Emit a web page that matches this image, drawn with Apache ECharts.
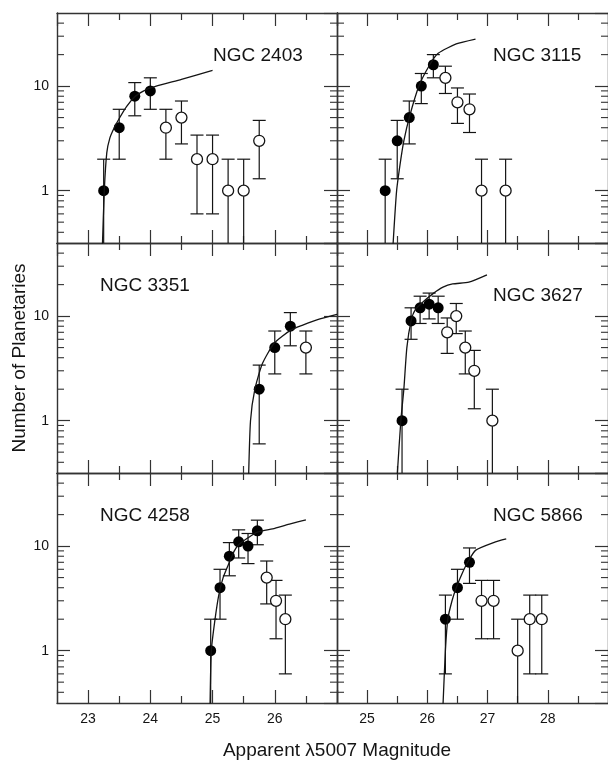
<!DOCTYPE html>
<html>
<head>
<meta charset="utf-8">
<script src="https://cdn.jsdelivr.net/npm/echarts@6/dist/echarts.min.js"></script>
<style>
  html, body { margin: 0; padding: 0; background: #fff; }
  #chart { width: 608px; height: 763px; }
</style>
</head>
<body>
<div id="chart"></div>
<script>
// NGC 2403 (first 4 bins are the fitted, filled points)
const ngc2403Mag = [23.25, 23.5, 23.75, 24.0, 24.25, 24.5, 24.75, 25.0, 25.25, 25.5, 25.75];
const ngc2403N = [1, 4, 8, 9, 4, 5, 2, 2, 1, 1, 3];
const ngc2403Lo = [0, 2, 5.2, 6, 2, 2.8, 0.6, 0.6, 0, 0, 1.3];
const ngc2403Hi = [2, 6, 10.8, 12, 6, 7.2, 3.4, 3.4, 2, 2, 4.7];
const ngc2403CurveMag = [23.23, 23.26, 23.3, 23.35, 23.42, 23.5, 23.62, 23.75, 23.88, 24.0, 24.5, 25.0];
const ngc2403CurveN = [0.3, 1, 2.3, 3.2, 4.0, 4.9, 6.4, 7.9, 8.9, 9.6, 11.6, 14.1];

// NGC 3115
const ngc3115Mag = [25.3, 25.5, 25.7, 25.9, 26.1, 26.3, 26.5, 26.7, 26.9, 27.3];
const ngc3115N = [1, 3, 5, 10, 16, 12, 7, 6, 1, 1];
const ngc3115Lo = [0, 1.3, 2.8, 6.8, 12, 8.5, 4.4, 3.6, 0, 0];
const ngc3115Hi = [2, 4.7, 7.2, 13.2, 20, 15.5, 9.6, 8.4, 2, 2];
const ngc3115CurveMag = [25.43, 25.49, 25.56, 25.61, 25.7, 25.86, 26.04, 26.18, 26.48, 26.8];
const ngc3115CurveN = [0.3, 1, 2, 3, 5, 10, 16, 20.6, 25.3, 28.2];

// NGC 3351
const ngc3351Mag = [25.75, 26.0, 26.25, 26.5];
const ngc3351N = [2, 5, 8, 5];
const ngc3351Lo = [0.6, 2.8, 5.2, 2.8];
const ngc3351Hi = [3.4, 7.2, 10.8, 7.2];
const ngc3351CurveMag = [25.58, 25.61, 25.68, 25.8, 25.99, 26.25, 26.45, 26.7, 27.0];
const ngc3351CurveN = [0.3, 1, 2, 3.5, 5.5, 7.3, 8.2, 9.3, 10.4];

// NGC 3627
const ngc3627Mag = [25.58, 25.73, 25.88, 26.03, 26.18, 26.33, 26.48, 26.63, 26.78, 27.08];
const ngc3627N = [1, 9, 12, 13, 12, 7, 10, 5, 3, 1];
const ngc3627Lo = [0, 6, 8.5, 9.4, 8.5, 4.4, 6.8, 2.8, 1.3, 0];
const ngc3627Hi = [2, 12, 15.5, 16.6, 15.5, 9.6, 13.2, 7.2, 4.7, 2];
const ngc3627CurveMag = [25.5, 25.56, 25.61, 25.66, 25.73, 25.8, 25.95, 26.1, 26.26, 26.42, 26.69, 26.99];
const ngc3627CurveN = [0.3, 1, 2, 5, 9, 11.5, 14, 16.5, 18.9, 20.3, 21.1, 24.8];

// NGC 4258
const ngc4258Mag = [24.97, 25.12, 25.27, 25.42, 25.57, 25.72, 25.87, 26.02, 26.17];
const ngc4258N = [1, 4, 8, 11, 10, 14, 5, 3, 2];
const ngc4258Lo = [0, 2, 5.2, 7.7, 6.8, 10.3, 2.8, 1.3, 0.6];
const ngc4258Hi = [2, 6, 10.8, 14.3, 13.2, 17.7, 7.2, 4.7, 3.4];
const ngc4258CurveMag = [24.96, 24.98, 25.04, 25.1, 25.17, 25.27, 25.35, 25.42, 25.57, 25.72, 26.0, 26.25, 26.5];
const ngc4258CurveN = [0.3, 1, 2, 3.4, 5, 7, 9, 10.3, 12, 13.6, 14.8, 16.3, 17.8];

// NGC 5866
const ngc5866Mag = [26.3, 26.5, 26.7, 26.9, 27.1, 27.5, 27.7, 27.9];
const ngc5866N = [2, 4, 7, 3, 3, 1, 2, 2];
const ngc5866Lo = [0.6, 2, 4.4, 1.3, 1.3, 0, 0.6, 0.6];
const ngc5866Hi = [3.4, 6, 9.6, 4.7, 4.7, 2, 3.4, 3.4];
const ngc5866CurveMag = [26.26, 26.3, 26.34, 26.41, 26.48, 26.58, 26.67, 26.8, 27.12, 27.31];
const ngc5866CurveN = [0.3, 1, 2, 3, 4, 5.5, 7, 9.1, 10.9, 11.7];

// axes
const xRangeLeft = [22.5, 27];
const xRangeRight = [24.5, 29];
const yRange = [0.316, 50];
const yMinorTicks = [0.4, 0.5, 0.6, 0.7, 0.8, 0.9, 2, 3, 4, 5, 6, 7, 8, 9, 20, 30, 40];

const FONT = '"Liberation Sans", Arial, Helvetica, sans-serif';
const INK = '#141414';
const AXIS = '#333';

const panels = [
  { name: 'NGC 2403', mag: ngc2403Mag, n: ngc2403N, lo: ngc2403Lo, hi: ngc2403Hi, filled: 4,
    curveMag: ngc2403CurveMag, curveN: ngc2403CurveN, label: [213, 56] },
  { name: 'NGC 3115', mag: ngc3115Mag, n: ngc3115N, lo: ngc3115Lo, hi: ngc3115Hi, filled: 5,
    curveMag: ngc3115CurveMag, curveN: ngc3115CurveN, label: [493, 56] },
  { name: 'NGC 3351', mag: ngc3351Mag, n: ngc3351N, lo: ngc3351Lo, hi: ngc3351Hi, filled: 3,
    curveMag: ngc3351CurveMag, curveN: ngc3351CurveN, label: [100, 286] },
  { name: 'NGC 3627', mag: ngc3627Mag, n: ngc3627N, lo: ngc3627Lo, hi: ngc3627Hi, filled: 5,
    curveMag: ngc3627CurveMag, curveN: ngc3627CurveN, label: [493, 296] },
  { name: 'NGC 4258', mag: ngc4258Mag, n: ngc4258N, lo: ngc4258Lo, hi: ngc4258Hi, filled: 6,
    curveMag: ngc4258CurveMag, curveN: ngc4258CurveN, label: [100, 516] },
  { name: 'NGC 5866', mag: ngc5866Mag, n: ngc5866N, lo: ngc5866Lo, hi: ngc5866Hi, filled: 3,
    curveMag: ngc5866CurveMag, curveN: ngc5866CurveN, label: [493, 516] },
];

const gridLeft = [57, 337];
const gridTop = [13, 243, 473];
const GRID_W = 280;
const GRID_H = 230;

const zip = (a, b) => a.map((v, i) => [v, b[i]]);

const renderErrorBar = (params, api) => {
  const cs = params.coordSys;
  const x = api.value(0);
  const lo = api.value(1);
  const hi = api.value(2);
  const top = api.coord([x, hi]);
  const px = top[0];
  const bottomY = lo > 0 ? api.coord([x, lo])[1] : cs.y + cs.height;
  const style = { stroke: INK, lineWidth: 1.2, fill: null };
  const children = [
    { type: 'line', shape: { x1: px, y1: top[1], x2: px, y2: bottomY }, style },
    { type: 'line', shape: { x1: px - 6.5, y1: top[1], x2: px + 6.5, y2: top[1] }, style },
  ];
  if (lo > 0) {
    children.push({ type: 'line', shape: { x1: px - 6.5, y1: bottomY, x2: px + 6.5, y2: bottomY }, style });
  }
  return { type: 'group', children };
};

// log axis minor ticks at 2..9 of each decade, on both sides of the panel
const renderMinorTick = (params, api) => {
  const cs = params.coordSys;
  const y = api.coord([api.value(0), api.value(1)])[1];
  const style = { stroke: AXIS, lineWidth: 1.1 };
  return {
    type: 'group',
    children: [
      { type: 'line', shape: { x1: cs.x, y1: y, x2: cs.x + 7, y2: y }, style },
      { type: 'line', shape: { x1: cs.x + cs.width - 7, y1: y, x2: cs.x + cs.width, y2: y }, style },
    ],
  };
};

const axisLine = { lineStyle: { color: AXIS, width: 1.4 } };
const axisTick = { inside: true, length: 13, lineStyle: { color: AXIS, width: 1.2 } };
const minorTick = { show: true, splitNumber: 2, length: 7, lineStyle: { color: AXIS, width: 1.2 } };

const grid = panels.map((p, i) => ({
  left: gridLeft[i % 2],
  top: gridTop[Math.floor(i / 2)],
  width: GRID_W,
  height: GRID_H,
}));

const xAxis = [];
const yAxis = [];
panels.forEach((p, i) => {
  const range = i % 2 === 0 ? xRangeLeft : xRangeRight;
  const bottomRow = i >= 4;
  ['bottom', 'top'].forEach((position) => {
    xAxis.push({
      type: 'value',
      gridIndex: i,
      position,
      min: range[0],
      max: range[1],
      axisLine,
      axisTick,
      minorTick,
      splitLine: { show: false },
      axisLabel: {
        show: bottomRow && position === 'bottom',
        showMinLabel: false,
        showMaxLabel: false,
        margin: 9,
        color: INK,
        fontSize: 14,
        fontFamily: FONT,
      },
    });
  });
  ['left', 'right'].forEach((position) => {
    const axis = {
      type: 'log',
      logBase: 10,
      gridIndex: i,
      position,
      min: yRange[0],
      max: yRange[1],
      axisLine,
      axisTick,
      splitLine: { show: false },
      axisLabel: {
        show: i % 2 === 0 && position === 'left',
        showMinLabel: false,
        showMaxLabel: false,
        margin: 8,
        color: INK,
        fontSize: 14,
        fontFamily: FONT,
      },
    };
    if (i === 2 && position === 'left') {
      axis.name = 'Number of Planetaries';
      axis.nameLocation = 'middle';
      axis.nameGap = 27;
      axis.nameTextStyle = { color: INK, fontSize: 19, fontFamily: FONT };
    }
    yAxis.push(axis);
  });
});

const series = [];
panels.forEach((p, i) => {
  const axes = { xAxisIndex: 2 * i, yAxisIndex: 2 * i };
  const range = i % 2 === 0 ? xRangeLeft : xRangeRight;
  series.push({
    type: 'custom',
    ...axes,
    silent: true,
    renderItem: renderMinorTick,
    data: yMinorTicks.map((v) => [range[0], v]),
  });
  series.push({
    type: 'line',
    ...axes,
    data: zip(p.curveMag, p.curveN),
    symbol: 'none',
    smooth: 0.2,
    lineStyle: { color: INK, width: 1.3 },
    silent: true,
  });
  series.push({
    type: 'custom',
    ...axes,
    clip: true,
    silent: true,
    renderItem: renderErrorBar,
    encode: { x: 0, y: [1, 2] },
    data: p.mag.map((m, k) => [m, p.lo[k], p.hi[k]]),
  });
  const points = zip(p.mag, p.n);
  series.push({
    type: 'scatter',
    ...axes,
    symbol: 'circle',
    symbolSize: 11,
    itemStyle: { color: '#000', opacity: 1 },
    data: points.slice(0, p.filled),
  });
  series.push({
    type: 'scatter',
    ...axes,
    symbol: 'circle',
    symbolSize: 11,
    itemStyle: { color: '#fff', borderColor: INK, borderWidth: 1.3, opacity: 1 },
    data: points.slice(p.filled),
  });
});

const graphic = panels.map((p) => ({
  type: 'text',
  x: p.label[0],
  y: p.label[1],
  style: { text: p.name, fill: INK, font: `19px ${FONT}`, textVerticalAlign: 'middle' },
}));
graphic.push({
  type: 'text',
  x: 337,
  y: 751,
  style: {
    text: 'Apparent \u03bb5007 Magnitude',
    fill: INK,
    font: `19px ${FONT}`,
    textAlign: 'center',
    textVerticalAlign: 'middle',
  },
});

const chart = echarts.init(document.getElementById('chart'), null, { renderer: 'canvas' });
chart.setOption({
  animation: false,
  backgroundColor: '#fff',
  grid,
  xAxis,
  yAxis,
  series,
  graphic,
});
</script>
</body>
</html>
